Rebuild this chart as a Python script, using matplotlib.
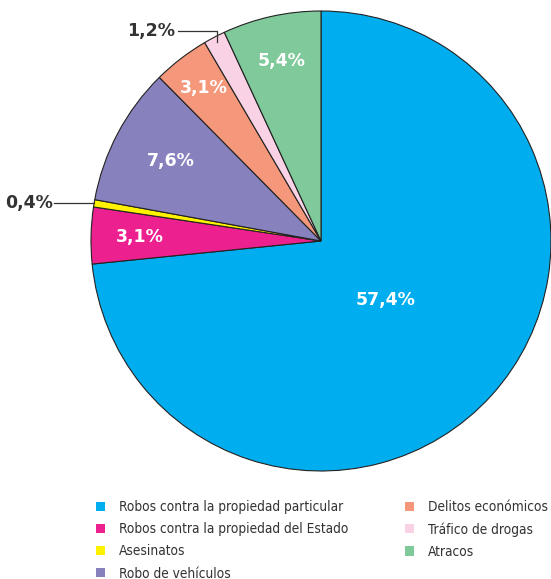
import numpy as np
import matplotlib
matplotlib.use('Agg')
import matplotlib.pyplot as plt
from matplotlib.patches import Patch

# Slices, clockwise from 12 o'clock
CATEGORIES = [
    'Robos contra la propiedad particular',
    'Robos contra la propiedad del Estado',
    'Asesinatos',
    'Robo de vehículos',
    'Delitos económicos',
    'Tráfico de drogas',
    'Atracos',
]
VALUES = [57.4, 3.1, 0.4, 7.6, 3.1, 1.2, 5.4]
LABELS = ['57,4%', '3,1%', '0,4%', '7,6%', '3,1%', '1,2%', '5,4%']
COLORS = ['#00aeef', '#ec208e', '#fff200', '#8781bd', '#f4977a', '#f9d3e5', '#80c99b']

# radial position of in-slice labels (None = outside with leader line)
LABEL_R = [0.38, 0.79, None, 0.74, 0.84, None, 0.80]

W, H = 551, 579
fig = plt.figure(figsize=(W / 100, H / 100), dpi=100)

cx, cy, rad = 321, H - 241, 230
ax = fig.add_axes([(cx - rad) / W, (cy - rad) / H, 2 * rad / W, 2 * rad / H])
wedges, _ = ax.pie(VALUES, colors=COLORS, startangle=90, counterclock=False,
                   wedgeprops=dict(edgecolor='#222222', linewidth=0.8))
ax.set_xlim(-1, 1)
ax.set_ylim(-1, 1)
ax.set_aspect('equal')
ax.axis('off')

lab_font = dict(fontsize=12.5, fontweight='bold', family='DejaVu Sans')
for w, lab, r in zip(wedges, LABELS, LABEL_R):
    mid = np.deg2rad((w.theta1 + w.theta2) / 2)
    if r is not None:
        ax.text(r * np.cos(mid), r * np.sin(mid), lab, color='white',
                ha='center', va='center', **lab_font)

# outside labels with leader lines
w = wedges[5]
mid = np.deg2rad((w.theta1 + w.theta2) / 2)
px, py = 0.975 * np.cos(mid), 0.975 * np.sin(mid)
ax.plot([-0.62, px, px], [0.913, 0.913, py], color='#333333', lw=0.9, clip_on=False)
ax.text(-0.635, 0.913, LABELS[5], color='#333333', ha='right', va='center', **lab_font)

w = wedges[2]
mid = np.deg2rad((w.theta1 + w.theta2) / 2)
py = np.sin(mid)
px = -np.sqrt(1 - py ** 2)
ax.plot([-1.16, px], [py, py], color='#333333', lw=0.9, clip_on=False)
ax.text(-1.165, py, LABELS[2], color='#333333', ha='right', va='center', **lab_font)

handles = [Patch(facecolor=c, edgecolor='none') for c in COLORS]
leg_kw = dict(frameon=False, loc='upper left', borderaxespad=0, borderpad=0,
              handlelength=0.66, handleheight=0.66, handletextpad=1.0,
              labelspacing=0.6, prop=dict(family='DejaVu Sans', stretch='condensed', size=9.8),
              labelcolor='#333333')
fig.legend(handles[:4], CATEGORIES[:4], bbox_to_anchor=(96 / W, 1 - 500 / H), **leg_kw)
fig.legend(handles[4:], CATEGORIES[4:], bbox_to_anchor=(405 / W, 1 - 500 / H), **leg_kw)

fig.savefig('out.png', dpi=100, facecolor='white')
